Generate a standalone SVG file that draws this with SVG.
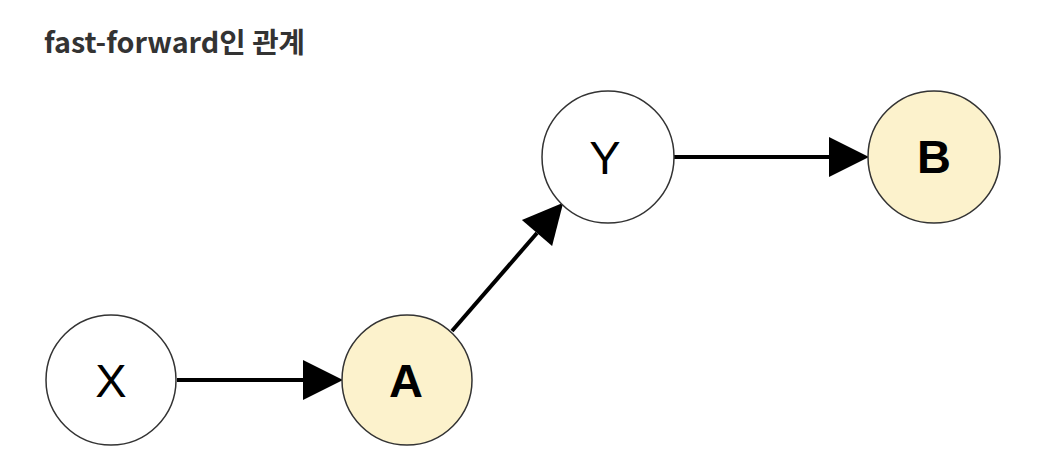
<svg xmlns="http://www.w3.org/2000/svg" width="1044" height="464" viewBox="0 0 1044 464">
<style>
.node{stroke:#333;stroke-width:1.5}
.plain{fill:#fff}
.hl{fill:#fcf2cc}
.lbl{font-family:"Liberation Sans",Arial,sans-serif;font-size:47px;fill:#000;text-anchor:middle}
.b{font-weight:bold}
.edge{stroke:#000;stroke-width:4;fill:none}
.title{font-family:"Noto Sans CJK KR","Noto Sans",sans-serif;font-weight:bold;font-size:28px;fill:#333}
</style>
<defs>
<marker id="arr" markerUnits="userSpaceOnUse" markerWidth="40" markerHeight="40" refX="0" refY="20" orient="auto" overflow="visible">
<path d="M0,0 L40,20 L0,40 Z" fill="#000"/>
</marker>
</defs>
<rect width="1044" height="464" fill="#fff"/>
<text class="title" x="44" y="53" textLength="261" lengthAdjust="spacingAndGlyphs">fast-forward인 관계</text>
<g id="connectors">
<line class="edge" x1="177" y1="380" x2="303" y2="380" marker-end="url(#arr)"/>
<line class="edge" x1="452" y1="331" x2="537" y2="233" marker-end="url(#arr)"/>
<line class="edge" x1="674" y1="157" x2="829" y2="157" marker-end="url(#arr)"/>
</g>
<g id="node-X"><circle class="node plain" cx="111" cy="380" r="65"/><text class="lbl" x="111" y="397">X</text></g>
<g id="node-A"><circle class="node hl" cx="407" cy="380" r="65"/><text class="lbl b" x="406" y="397">A</text></g>
<g id="node-Y"><circle class="node plain" cx="608" cy="157" r="66"/><text class="lbl" x="605" y="174">Y</text></g>
<g id="node-B"><circle class="node hl" cx="934" cy="157" r="66"/><text class="lbl b" x="934" y="173">B</text></g>
</svg>
